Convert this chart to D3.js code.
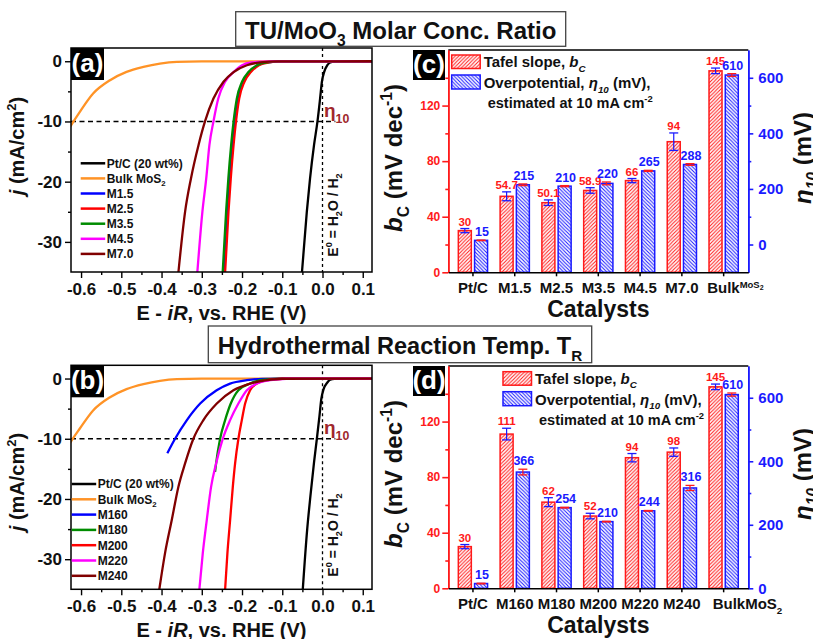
<!DOCTYPE html>
<html><head><meta charset="utf-8">
<script src="https://cdn.jsdelivr.net/npm/d3@7"></script>
<style>
body{margin:0;background:#fff}
svg{display:block}
text{font-family:"Liberation Sans",Arial,sans-serif;font-weight:bold}
</style>
</head><body>
<svg id="c" width="813" height="639"></svg>
<script>
// ---------------- DATA ----------------
const E_DOMAIN = [-0.625, 0.123];
const J_DOMAIN = [-35, 2.2];
const E_TICKS = [-0.6, -0.5, -0.4, -0.3, -0.2, -0.1, 0.0, 0.1];
const E_MINOR = [-0.55, -0.45, -0.35, -0.25, -0.15, -0.05, 0.05];
const J_TICKS = [0, -10, -20, -30];
const J_MINOR = [-5, -15, -25];

const colorsA = ["#000000", "#ff9326", "#0000ff", "#ff0000", "#008c00", "#ff00ff", "#800000"];
const colorsB = ["#000000", "#ff9326", "#0000ff", "#008c00", "#ff0000", "#ff00ff", "#800000"];
const namesA = ["Pt/C (20 wt%)", "Bulk MoS2", "M1.5", "M2.5", "M3.5", "M4.5", "M7.0"];
const namesB = ["Pt/C (20 wt%)", "Bulk MoS2", "M160", "M180", "M200", "M220", "M240"];

// panel (a) curves: [E (V), j (mA/cm2)]
const ptcA = [[-0.051,-35],[-0.039,-25],[-0.031,-19.5],[-0.021,-13.9],[-0.0125,-10],[-0.006,-6.2],[-0.0015,-3.4],[0.004,-1.8],[0.012,-0.66],[0.019,-0.2],[0.03,-0.04],[0.06,0],[0.123,0]];
const bulkA = [[-0.63,-11.2],[-0.6245,-10.6],[-0.603,-8.4],[-0.57,-5.36],[-0.528,-3.15],[-0.487,-1.77],[-0.445,-0.94],[-0.404,-0.39],[-0.362,-0.1],[-0.3,-0.02],[0.123,0]];
const m15A = [[-0.245,-35],[-0.2366,-25],[-0.231,-19.5],[-0.224,-13.9],[-0.218,-10],[-0.210,-6.2],[-0.197,-3.4],[-0.181,-1.8],[-0.161,-0.66],[-0.136,-0.2],[-0.1,-0.03],[0.123,0]];
const m25A = [[-0.242,-35],[-0.2336,-25],[-0.228,-19.5],[-0.221,-13.9],[-0.215,-10],[-0.207,-6.2],[-0.194,-3.4],[-0.178,-1.8],[-0.158,-0.66],[-0.134,-0.2],[-0.1,-0.03],[0.123,0]];
const m35A = [[-0.248,-35],[-0.2396,-25],[-0.234,-19.5],[-0.227,-13.9],[-0.221,-10],[-0.213,-6.2],[-0.2,-3.4],[-0.184,-1.8],[-0.163,-0.66],[-0.138,-0.2],[-0.1,-0.03],[0.123,0]];
const m45A = [[-0.311,-35],[-0.2985,-25],[-0.289,-19.5],[-0.281,-13.9],[-0.271,-10],[-0.259,-6.2],[-0.242,-3.4],[-0.221,-1.8],[-0.2,-0.66],[-0.176,-0.2],[-0.13,-0.03],[0.123,0]];
const m70A = [[-0.358,-35],[-0.3415,-25],[-0.327,-19.5],[-0.308,-13.9],[-0.292,-10],[-0.271,-6.2],[-0.246,-3.4],[-0.221,-1.8],[-0.188,-0.66],[-0.155,-0.2],[-0.11,-0.03],[0.123,0]];

// panel (b) curves
const ptcB = [[-0.049,-35],[-0.038,-25],[-0.03,-19.5],[-0.021,-13.9],[-0.014,-10],[-0.0075,-6.2],[-0.003,-3.4],[0.0025,-1.8],[0.012,-0.66],[0.019,-0.2],[0.03,-0.04],[0.06,0],[0.123,0]];
const bulkB = [[-0.63,-11.0],[-0.6245,-10.4],[-0.603,-8.3],[-0.57,-5.3],[-0.528,-3.1],[-0.487,-1.75],[-0.445,-0.92],[-0.404,-0.38],[-0.362,-0.1],[-0.3,-0.02],[0.123,0]];
const m160B = [[-0.3856,-12.4],[-0.3664,-10],[-0.337,-6.9],[-0.304,-4.15],[-0.263,-1.94],[-0.2296,-0.83],[-0.188,-0.28],[-0.15,-0.05],[-0.1,0],[0.123,0]];
const m180B = [[-0.267,-15.5],[-0.2644,-14.1],[-0.2545,-10],[-0.242,-6.9],[-0.228,-4.15],[-0.209,-1.94],[-0.18,-0.83],[-0.155,-0.28],[-0.12,-0.05],[0.123,0]];
const m200B = [[-0.242,-35],[-0.2363,-29],[-0.2296,-23.5],[-0.2229,-18],[-0.2172,-14.1],[-0.209,-10],[-0.2005,-6.9],[-0.1923,-4.15],[-0.18,-1.94],[-0.163,-0.83],[-0.138,-0.28],[-0.1,-0.03],[0.123,0]];
const m220B = [[-0.306,-35],[-0.2975,-29],[-0.2876,-23.5],[-0.2769,-18],[-0.2644,-14.1],[-0.2478,-10],[-0.2296,-6.9],[-0.209,-4.15],[-0.188,-1.94],[-0.163,-0.83],[-0.13,-0.28],[-0.09,-0.03],[0.123,0]];
const m240B = [[-0.4055,-35],[-0.3913,-29],[-0.3746,-23.5],[-0.3582,-18],[-0.3415,-14.1],[-0.3209,-10],[-0.296,-6.9],[-0.2627,-4.15],[-0.2214,-1.94],[-0.1799,-0.83],[-0.1383,-0.28],[-0.1,-0.03],[0.123,0]];

// bar panels
const catsC = ["Pt/C", "M1.5", "M2.5", "M3.5", "M4.5", "M7.0", "Bulk"];
const tafelC = [30, 54.7, 50.1, 58.9, 66, 94, 145];
const tafelErrC = [1.5, 3.2, 2, 2, 1.5, 6.3, 2];
const etaC = [15, 215, 210, 220, 265, 288, 610];
const etaErrC = [1, 3, 2, 5, 2, 3, 5];
const tafelLabC = ["30", "54.7", "50.1", "58.9", "66", "94", "145"];
const etaLabC = ["15", "215", "210", "220", "265", "288", "610"];

const catsD = ["Pt/C", "M160", "M180", "M200", "M220", "M240", "Bulk"];
const tafelD = [30, 111, 62, 52, 94, 98, 145];
const tafelErrD = [1.5, 4.2, 3.2, 2, 3, 3, 2];
const etaD = [15, 366, 254, 210, 244, 316, 610];
const etaErrD = [1, 9, 1, 1, 1, 8, 5];
const tafelLabD = ["30", "111", "62", "52", "94", "98", "145"];
const etaLabD = ["15", "366", "254", "210", "244", "316", "610"];

const TAFEL_TICKS = [0, 40, 80, 120];
const TAFEL_MINOR = [20, 60, 100, 140];
const ETA_TICKS = [0, 200, 400, 600];
const ETA_MINOR_C = [100, 300, 500];
const ETA_MINOR_D = [100, 300, 500];

// ---------------- DRAW ----------------
const RED = "#ff1a1a", BLUE = "#1a1aff";
const svg = d3.select("#c");
const defs = svg.append("defs");

function hatch(id, color, d) {
  const p = defs.append("pattern").attr("id", id).attr("patternUnits", "userSpaceOnUse")
    .attr("width", 3.6).attr("height", 3.6);
  p.append("rect").attr("width", 3.6).attr("height", 3.6).attr("fill", "#fff");
  p.append("path").attr("d", d).attr("stroke", color).attr("stroke-width", 1).attr("fill", "none");
}
hatch("hR", RED, "M0,3.6L3.6,0M-0.9,0.9L0.9,-0.9M2.7,4.5L4.5,2.7");
hatch("hB", BLUE, "M0,0L3.6,3.6M-0.9,2.7L0.9,4.5M2.7,-0.9L4.5,0.9");

function rich(t, parts, fs) {
  let cur = 0;
  parts.forEach(p => {
    const ts = t.append("tspan").text(p.t);
    let target = 0;
    if (p.sub) { target = fs * 0.3; ts.attr("font-size", fs * 0.65); }
    if (p.sup) { target = -fs * 0.4; ts.attr("font-size", fs * 0.65); }
    if (p.it) ts.attr("font-style", "italic");
    if (target !== cur) { ts.attr("dy", target - cur); cur = target; }
  });
  return t;
}
function nameParts(n) {
  if (n.endsWith("MoS2")) return [{t: n.slice(0, -1)}, {t: "2", sub: true}];
  return [{t: n}];
}

function labelBox(x, y, w, h, txt) {
  svg.append("rect").attr("x", x).attr("y", y).attr("width", w).attr("height", h).attr("fill", "#000");
  svg.append("text").attr("x", x + w / 2).attr("y", y + h / 2 + 7.5).attr("text-anchor", "middle")
    .attr("fill", "#fff").attr("font-size", 26).text(txt);
}

function titleBox(x0, x1, y0, y1, parts, fs, base) {
  svg.append("rect").attr("x", x0).attr("y", y0).attr("width", x1 - x0).attr("height", y1 - y0)
    .attr("fill", "#fff").attr("stroke", "#444").attr("stroke-width", 1.3);
  rich(svg.append("text").attr("x", (x0 + x1) / 2).attr("y", base).attr("text-anchor", "middle")
    .attr("font-size", fs).attr("fill", "#111"), parts, fs);
}

function lsvPanel(o) {
  const X0 = 71, X1 = 372, Y0 = o.y0, Y1 = o.y0 + 224;
  const x = d3.scaleLinear().domain(E_DOMAIN).range([X0, X1]);
  const y = d3.scaleLinear().domain(J_DOMAIN).range([Y1, Y0]);
  const g = svg.append("g");
  const cid = "clip" + o.tag;
  defs.append("clipPath").attr("id", cid).append("rect")
    .attr("x", X0).attr("y", Y0).attr("width", X1 - X0).attr("height", Y1 - Y0);

  // reference lines
  g.append("line").attr("x1", x(0)).attr("x2", x(0)).attr("y1", Y0).attr("y2", Y1)
    .attr("stroke", "#000").attr("stroke-width", 1.3).attr("stroke-dasharray", "3,3");
  g.append("line").attr("x1", X0).attr("x2", x(0.032)).attr("y1", y(-10)).attr("y2", y(-10))
    .attr("stroke", "#000").attr("stroke-width", 1.5).attr("stroke-dasharray", "5,3.5");

  const line = d3.line().x(d => x(d[0])).y(d => y(d[1])).curve(d3.curveMonotoneX);
  const cg = g.append("g").attr("clip-path", `url(#${cid})`);
  o.series.forEach((s, i) => {
    cg.append("path").attr("d", line(s)).attr("fill", "none").attr("stroke", o.colors[i])
      .attr("stroke-width", 2.3).attr("stroke-linejoin", "round");
  });

  // frame
  g.append("rect").attr("x", X0).attr("y", Y0).attr("width", X1 - X0).attr("height", Y1 - Y0)
    .attr("fill", "none").attr("stroke", "#000").attr("stroke-width", 1.5);

  // axes
  const ax = g.append("g").attr("transform", `translate(0,${Y1})`)
    .call(d3.axisBottom(x).tickValues(E_TICKS).tickFormat(d => d.toFixed(1)).tickSize(6).tickSizeOuter(0).tickPadding(5));
  g.append("g").attr("transform", `translate(0,${Y1})`)
    .call(d3.axisBottom(x).tickValues(E_MINOR).tickFormat("").tickSize(3).tickSizeOuter(0));
  const ay = g.append("g").attr("transform", `translate(${X0},0)`)
    .call(d3.axisLeft(y).tickValues(J_TICKS).tickFormat(d => String(d)).tickSize(6).tickSizeOuter(0).tickPadding(3));
  g.append("g").attr("transform", `translate(${X0},0)`)
    .call(d3.axisLeft(y).tickValues(J_MINOR).tickFormat("").tickSize(3).tickSizeOuter(0));
  g.selectAll(".domain").remove();
  g.selectAll(".tick line").attr("stroke", "#000").attr("stroke-width", 1.4);
  ax.selectAll("text").attr("font-size", 17).attr("fill", "#111").attr("font-family", null);
  ay.selectAll("text").attr("font-size", 17).attr("fill", "#111").attr("font-family", null);

  // titles
  rich(svg.append("text").attr("x", (X0 + X1) / 2).attr("y", Y1 + 47.5).attr("text-anchor", "middle")
    .attr("font-size", 20).attr("fill", "#111"),
    [{t: "E - "}, {t: "iR", it: true}, {t: ", vs. RHE (V)"}], 20);
  rich(svg.append("text").attr("transform", `translate(24,${o.ytitle}) rotate(-90)`).attr("text-anchor", "middle")
    .attr("font-size", 20).attr("fill", "#111"),
    [{t: "j", it: true}, {t: " (mA/cm"}, {t: "2", sup: true}, {t: ")"}], 20);

  // legend
  o.names.forEach((n, i) => {
    const cy = o.legY + i * o.legDy;
    g.append("line").attr("x1", o.legX).attr("x2", o.legX + 24.5).attr("y1", cy).attr("y2", cy)
      .attr("stroke", o.colors[i]).attr("stroke-width", 2.5);
    rich(g.append("text").attr("x", o.legX + 26).attr("y", cy + 4.3).attr("font-size", 12).attr("fill", "#111"),
      nameParts(n), 12);
  });

  // eta10 label
  rich(g.append("text").attr("x", 324).attr("y", Y0 + 69).attr("fill", "#a0282d").attr("font-size", 19)
    .attr("font-weight", "normal"), [{t: "η"}, {t: "10", sub: true}], 19);

  // E0 text
  rich(g.append("text").attr("transform", `translate(338,${o.e0y}) rotate(-90)`).attr("text-anchor", "middle")
    .attr("font-size", 14).attr("fill", "#111"),
    [{t: "E"}, {t: "0", sup: true}, {t: " = H"}, {t: "2", sub: true}, {t: "O / H"}, {t: "2", sub: true}], 14);

  labelBox(X0, Y0, 33, 32, o.label);
}

function barPanel(o) {
  const X0 = 448.3, X1 = 748.3, Y0 = o.y0, Y1 = o.y0 + 222.3;
  const xb = d3.scaleBand().domain(o.cats).range([X0, X1]).paddingInner(0).paddingOuter(0.09);
  const xs = d3.scaleBand().domain(["t", "o"]).range([xb.bandwidth() * 0.15, xb.bandwidth() * 0.85]).paddingInner(0.2);
  const yL = d3.scaleLinear().domain([0, 160]).range([Y1, Y0]);
  const yR = d3.scaleLinear().domain(o.rDomain).range([Y1, Y0]);
  const g = svg.append("g");

  // top frame
  g.append("line").attr("x1", X0).attr("x2", X1).attr("y1", Y0).attr("y2", Y0).attr("stroke", "#000").attr("stroke-width", 1.5);

  const bw = xs.bandwidth();
  o.cats.forEach((c, i) => {
    const xt = xb(c) + xs("t"), xo = xb(c) + xs("o");
    g.append("rect").attr("x", xt).attr("y", yL(o.tafel[i])).attr("width", bw).attr("height", Y1 - yL(o.tafel[i]))
      .attr("fill", "url(#hR)").attr("stroke", RED).attr("stroke-width", 1.5);
    g.append("rect").attr("x", xo).attr("y", yR(o.eta[i])).attr("width", bw).attr("height", Y1 - yR(o.eta[i]))
      .attr("fill", "url(#hB)").attr("stroke", BLUE).attr("stroke-width", 1.5);
    const eb = (cx, yTop, yBot, col) => {
      g.append("line").attr("x1", cx).attr("x2", cx).attr("y1", yTop).attr("y2", yBot).attr("stroke", col).attr("stroke-width", 1.2);
      [yTop, yBot].forEach(yy => g.append("line").attr("x1", cx - 4.5).attr("x2", cx + 4.5).attr("y1", yy).attr("y2", yy)
        .attr("stroke", col).attr("stroke-width", 1.3));
    };
    eb(xt + bw / 2, yL(o.tafel[i] + o.tafelErr[i]), yL(o.tafel[i] - o.tafelErr[i]), BLUE);
    eb(xo + bw / 2, yR(o.eta[i] + o.etaErr[i]), yR(o.eta[i] - o.etaErr[i]), RED);
    g.append("text").attr("x", xt + bw / 2).attr("y", yL(o.tafel[i] + o.tafelErr[i]) - 3)
      .attr("text-anchor", "middle").attr("font-size", 11.5).attr("fill", RED).text(o.tafelLab[i]);
    g.append("text").attr("x", xo + bw / 2 + 1).attr("y", yR(o.eta[i] + o.etaErr[i]) - 4)
      .attr("text-anchor", "middle").attr("font-size", 12.5).attr("fill", BLUE).text(o.etaLab[i]);
  });

  // left axis
  const aL = g.append("g").attr("transform", `translate(${X0},0)`)
    .call(d3.axisLeft(yL).tickValues(TAFEL_TICKS).tickSize(6).tickSizeOuter(0).tickPadding(2));
  const aLm = g.append("g").attr("transform", `translate(${X0},0)`)
    .call(d3.axisLeft(yL).tickValues(TAFEL_MINOR).tickFormat("").tickSize(3).tickSizeOuter(0));
  [aL, aLm].forEach(a => { a.selectAll("line,path").attr("stroke", RED).attr("stroke-width", 1.6); });
  aL.selectAll("text").attr("fill", RED).attr("font-size", 12).attr("font-family", null);

  // right axis
  const aR = g.append("g").attr("transform", `translate(${X1},0)`)
    .call(d3.axisRight(yR).tickValues(ETA_TICKS).tickSize(5).tickSizeOuter(0).tickPadding(5));
  const aRm = g.append("g").attr("transform", `translate(${X1},0)`)
    .call(d3.axisRight(yR).tickValues(o.etaMinor).tickFormat("").tickSize(3).tickSizeOuter(0));
  [aR, aRm].forEach(a => { a.selectAll("line,path").attr("stroke", BLUE).attr("stroke-width", 1.6); });
  aR.selectAll("text").attr("fill", BLUE).attr("font-size", 15).attr("font-family", null);

  // bottom axis
  const aB = g.append("g").attr("transform", `translate(0,${Y1})`)
    .call(d3.axisBottom(xb).tickSize(4).tickSizeOuter(0).tickPadding(6).tickFormat(d => d === "Bulk" ? "" : d));
  aB.selectAll("line,path").attr("stroke", "#000").attr("stroke-width", 1.5);
  aB.selectAll("text").attr("fill", "#111").attr("font-size", 15).attr("font-family", null);
  const bx = xb("Bulk") + xb.bandwidth() / 2;
  if (o.smallMoS2) {
    const t = g.append("text").attr("x", bx - 16.5).attr("y", Y1 + 20.7).attr("font-size", 15).attr("fill", "#111");
    t.append("tspan").text("Bulk");
    t.append("tspan").attr("font-size", 9.5).attr("dy", -5).text("MoS");
    t.append("tspan").attr("font-size", 7).attr("dy", 2).text("2");
  } else {
    rich(g.append("text").attr("x", bx - 11).attr("y", Y1 + 20.7).attr("font-size", 15).attr("fill", "#111"),
      [{t: "BulkMoS"}, {t: "2", sub: true}], 15);
  }

  // titles
  svg.append("text").attr("x", (X0 + X1) / 2).attr("y", Y1 + 45).attr("text-anchor", "middle")
    .attr("font-size", 23).attr("fill", "#111").text("Catalysts");
  rich(svg.append("text").attr("transform", `translate(402,${o.ytitle}) rotate(-90)`).attr("text-anchor", "middle")
    .attr("font-size", 24).attr("fill", "#111"),
    [{t: "b", it: true}, {t: "C", sub: true}, {t: " (mV dec"}, {t: "-1", sup: true}, {t: ")"}], 24);
  rich(svg.append("text").attr("transform", `translate(811,${o.ytitle}) rotate(-90)`).attr("text-anchor", "middle")
    .attr("font-size", 24).attr("fill", "#111"),
    [{t: "η", it: true}, {t: "10", sub: true, it: true}, {t: " (mV)"}], 24);

  // legend
  const L = o.leg;
  g.append("rect").attr("x", L.x).attr("y", L.y).attr("width", 28.5).attr("height", 13.5)
    .attr("fill", "url(#hR)").attr("stroke", RED).attr("stroke-width", 1.5);
  g.append("rect").attr("x", L.x).attr("y", L.y + 20).attr("width", 28.5).attr("height", 14)
    .attr("fill", "url(#hB)").attr("stroke", BLUE).attr("stroke-width", 1.5);
  rich(g.append("text").attr("x", L.x + 32).attr("y", L.y + 12).attr("font-size", 15).attr("fill", "#111"),
    [{t: "Tafel slope, "}, {t: "b", it: true}, {t: "C", sub: true, it: true}], 15);
  rich(g.append("text").attr("x", L.x + 32).attr("y", L.y + 33).attr("font-size", 15).attr("fill", "#111"),
    [{t: "Overpotential, "}, {t: "η", it: true}, {t: "10", sub: true, it: true}, {t: " (mV),"}], 15);
  rich(g.append("text").attr("x", L.x + 36).attr("y", L.y + 53).attr("font-size", 14.5).attr("fill", "#111"),
    [{t: "estimated at 10 mA cm"}, {t: "-2", sup: true}], 14.5);

  labelBox(413, Y0, 32, 30, o.label);
}

// titles
titleBox(235.7, 565.7, 11.7, 46.3, [{t: "TU/MoO"}, {t: "3", sub: true}, {t: " Molar Conc. Ratio"}], 24, 39);
titleBox(208.3, 591.7, 326, 362.7, [{t: "Hydrothermal Reaction Temp. T"}, {t: "R", sub: true}], 23.5, 353.5);

lsvPanel({tag: "a", y0: 48, label: "(a)", names: namesA, colors: colorsA, series: [ptcA, bulkA, m15A, m25A, m35A, m45A, m70A],
  legX: 80.7, legY: 163.3, legDy: 15.1, ytitle: 146, e0y: 215});
lsvPanel({tag: "b", y0: 365.3, label: "(b)", names: namesB, colors: colorsB, series: [ptcB, bulkB, m160B, m180B, m200B, m220B, m240B],
  legX: 71.7, legY: 484, legDy: 15.3, ytitle: 482, e0y: 535});

barPanel({y0: 50, label: "(c)", cats: catsC, tafel: tafelC, tafelErr: tafelErrC, eta: etaC, etaErr: etaErrC,
  tafelLab: tafelLabC, etaLab: etaLabC, rDomain: [-100, 700], etaMinor: ETA_MINOR_C, smallMoS2: true,
  ytitle: 158, leg: {x: 451.7, y: 55}});
barPanel({y0: 366, label: "(d)", cats: catsD, tafel: tafelD, tafelErr: tafelErrD, eta: etaD, etaErr: etaErrD,
  tafelLab: tafelLabD, etaLab: etaLabD, rDomain: [0, 700], etaMinor: ETA_MINOR_D, smallMoS2: false,
  ytitle: 474, leg: {x: 503, y: 371.7}});
</script>
</body></html>
